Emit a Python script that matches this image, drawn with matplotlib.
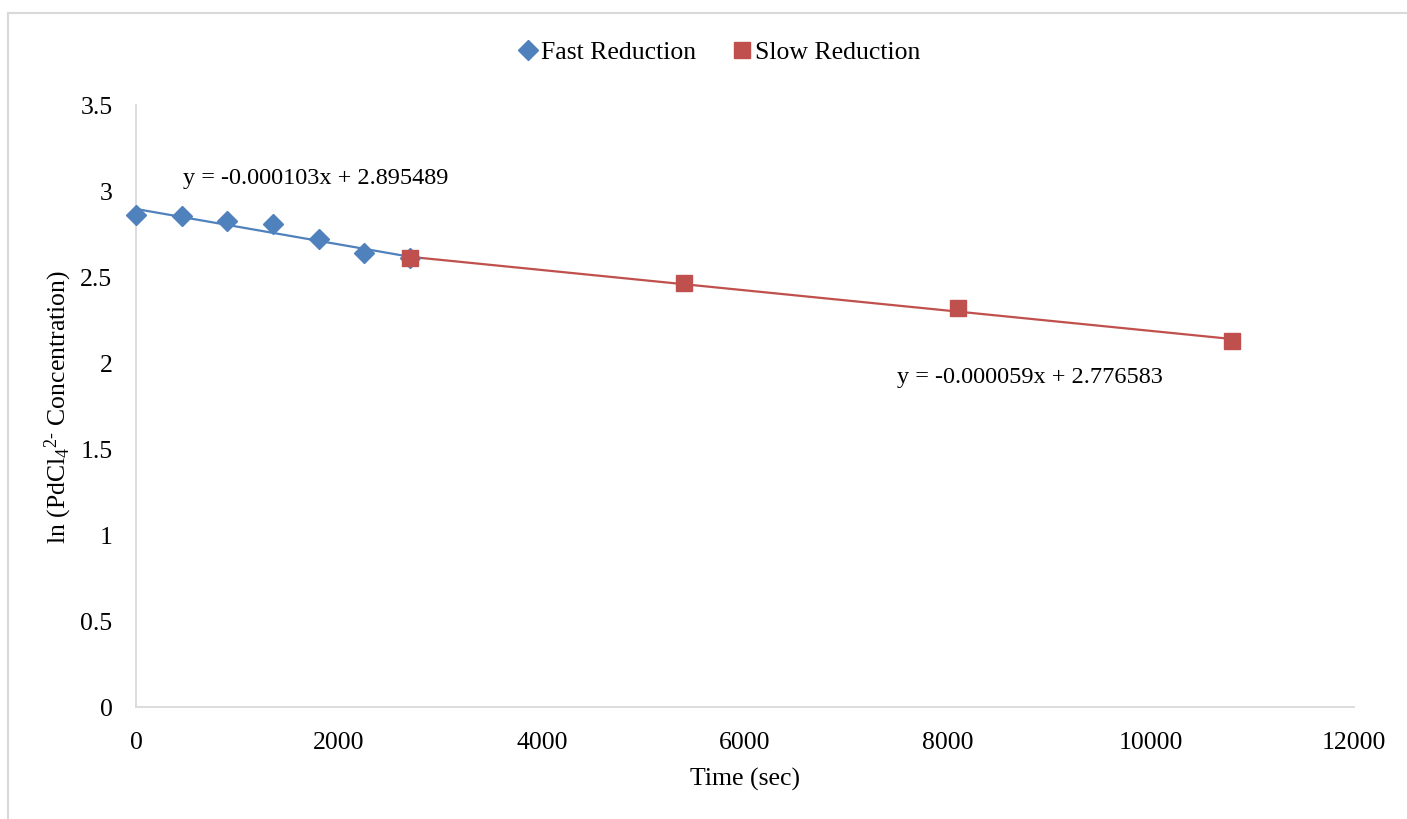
import matplotlib
matplotlib.use("Agg")
import matplotlib.pyplot as plt
from matplotlib.lines import Line2D
import numpy as np

plt.rcParams['font.family'] = ['Liberation Serif', 'DejaVu Serif']
plt.rcParams['mathtext.fontset'] = 'custom'
plt.rcParams['mathtext.rm'] = 'Liberation Serif'
plt.rcParams['mathtext.it'] = 'Liberation Serif:italic'
plt.rcParams['mathtext.bf'] = 'Liberation Serif:bold'

fast_x = [0, 450, 900, 1350, 1800, 2250, 2700]
fast_y = [2.860, 2.855, 2.826, 2.808, 2.721, 2.640, 2.612]
slow_x = [2700, 5400, 8100, 10800]
slow_y = [2.612, 2.463, 2.322, 2.128]
fast_fit = [-0.000103, 2.895489]
slow_fit = [-0.000059, 2.776583]
fast_eq = "y = -0.000103x + 2.895489"
slow_eq = "y = -0.000059x + 2.776583"
x_ticks = [0, 2000, 4000, 6000, 8000, 10000, 12000]
y_ticks = [0, 0.5, 1, 1.5, 2, 2.5, 3, 3.5]

blue = '#4f81bd'
red = '#c0504d'
gray = '#d9d9d9'
fs = 18.5

fig = plt.figure(figsize=(14.07, 8.2), dpi=100)
ax = fig.add_axes([136/1407, 1-708/820, (1354-136)/1407, (708-106)/820])

# trendlines
fx = np.array([min(fast_x), max(fast_x)])
sx = np.array([min(slow_x), max(slow_x)])
ax.plot(fx, fast_fit[0]*fx + fast_fit[1], color=blue, lw=1.6, zorder=2)
ax.plot(sx, slow_fit[0]*sx + slow_fit[1], color=red, lw=1.6, zorder=2)

ax.plot(fast_x, fast_y, linestyle='none', marker='D', ms=10.5, color=blue,
        label='Fast Reduction', zorder=3, clip_on=False)
ax.plot(slow_x, slow_y, linestyle='none', marker='s', ms=11.5, color=red,
        label='Slow Reduction', zorder=4, clip_on=False)

ax.text(463, 3.08, fast_eq, fontsize=17.5, va='center', ha='left')
ax.text(7498, 1.924, slow_eq, fontsize=17.5, va='center', ha='left')

ax.set_xlim(0, 12000)
ax.set_ylim(0, 3.5)
ax.set_xticks(x_ticks)
ax.set_yticks(y_ticks)
ax.set_yticklabels([f"{v:g}" for v in y_ticks])
ax.tick_params(axis='both', length=0, labelsize=fs)
ax.tick_params(axis='y', pad=17)
ax.tick_params(axis='x', pad=17)
for s in ['top', 'right']:
    ax.spines[s].set_visible(False)
for s in ['left', 'bottom']:
    ax.spines[s].set_color(gray)
    ax.spines[s].set_linewidth(1.3)

ax.set_xlabel('Time (sec)', fontsize=fs)
ax.set_ylabel(r'ln (PdCl$_4$$^{2\text{-}}$ Concentration)', fontsize=fs)
ax.yaxis.set_label_coords(-(136-74)/1218, 0.5)
ax.xaxis.set_label_coords(0.5, -(768-708)/602)

handles = [Line2D([], [], linestyle='none', marker='D', ms=10.5, color=blue),
           Line2D([], [], linestyle='none', marker='s', ms=11.5, color=red)]
fig.legend(handles, ['Fast Reduction', 'Slow Reduction'], loc='center',
           bbox_to_anchor=(718/1407, 1-53/820), ncol=2, frameon=False,
           fontsize=fs, handletextpad=0.0, columnspacing=1.3, handlelength=1.0)

# outer chart frame
fig.add_artist(Line2D([8/1407, 1], [1-14/820, 1-14/820], color=gray, lw=1.5,
                      transform=fig.transFigure))
fig.add_artist(Line2D([8/1407, 8/1407], [0, 1-14/820], color=gray, lw=1.5,
                      transform=fig.transFigure))

fig.savefig('out.png', dpi=100)
